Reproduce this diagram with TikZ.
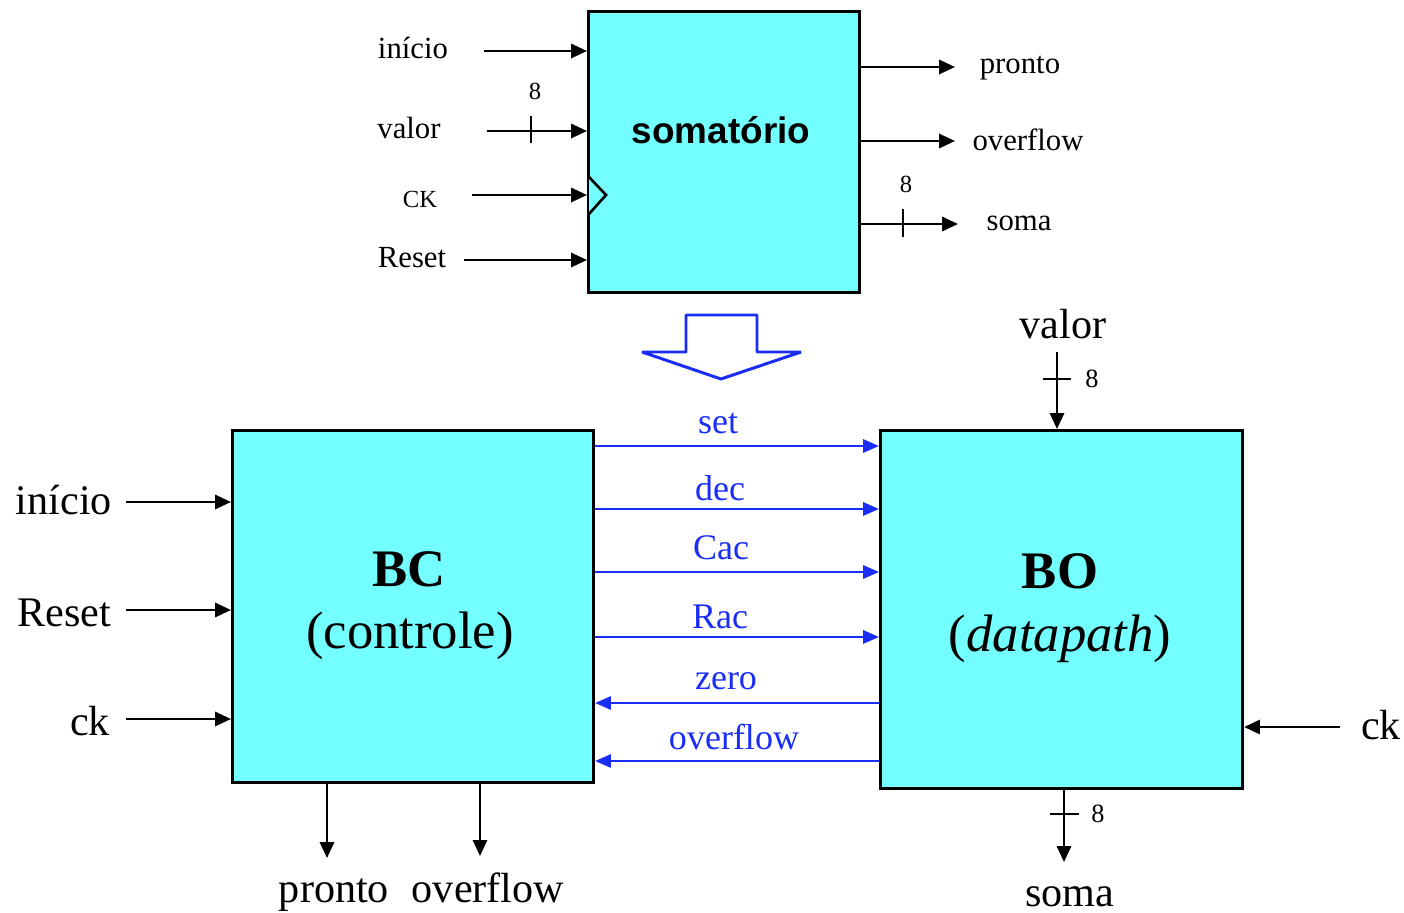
\documentclass[tikz,border=0pt]{standalone}
\usepackage{fontspec}
\setmainfont{Liberation Serif}
\newfontfamily\arialfont{Liberation Sans}
\usetikzlibrary{arrows.meta}
\definecolor{boxcyan}{RGB}{115,255,255}
\definecolor{sigblue}{RGB}{25,45,245}
\begin{document}
\begin{tikzpicture}[x=0.02cm,y=-0.02cm,
  box/.style={draw, line width=1.8pt, fill=boxcyan, inner sep=0pt, anchor=north west},
  sig/.style={line width=1.5pt, -{Triangle[length=9pt,width=8pt]}},
  bsig/.style={line width=1.3pt, color=sigblue, -{Triangle[length=9pt,width=7.5pt]}},
  tick/.style={line width=1.5pt},
  lblS/.style={font=\fontsize{17.5}{20}\selectfont, inner sep=0pt},
  lblXS/.style={font=\fontsize{14}{16}\selectfont, inner sep=0pt},
  lblL/.style={font=\fontsize{24}{28}\selectfont, inner sep=0pt},
  lblB/.style={font=\fontsize{20.5}{24}\selectfont, inner sep=0pt, text=sigblue},
  lblN/.style={font=\fontsize{15}{17}\selectfont, inner sep=0pt},
  big/.style={font=\fontsize{30}{34}\selectfont, inner sep=0pt}
]
\useasboundingbox (0,0) rectangle (1404,913);

% ---------- top block ----------
\node[box, minimum width=5.42cm, minimum height=5.62cm] (som) at (587,10) {};
\node[font=\arialfont\bfseries\fontsize{21}{24}\selectfont, inner sep=0pt] (somt) at (721,130) {somatório};
\draw[line width=1.5pt, fill=boxcyan] (589,177) -- (606,195) -- (589,214);

\node[lblS] (tini) at (413,48) {início};
\coordinate (tiniS) at (484,51);
\draw[sig] (tiniS) -- (som.west |- tiniS);

\node[lblS] (tval) at (409,128) {valor};
\coordinate (tvalS) at (487,131);
\draw[sig] (tvalS) -- (som.west |- tvalS);
\draw[tick] (531,116) -- (531,143);
\node[lblXS] (tval8) at (535,91) {8};

\node[lblXS] (tck) at (420,199) {CK};
\coordinate (tckS) at (472,195);
\draw[sig] (tckS) -- (som.west |- tckS);

\node[lblS] (trst) at (412,258) {Reset};
\coordinate (trstS) at (464,260);
\draw[sig] (trstS) -- (som.west |- trstS);

\node[lblS] (tpr) at (1020,68) {pronto};
\coordinate (tprE) at (955,67);
\draw[sig] (som.east |- tprE) -- (tprE);

\node[lblS] (tov) at (1028,140) {overflow};
\coordinate (tovE) at (955,141);
\draw[sig] (som.east |- tovE) -- (tovE);

\node[lblS] (tsoma) at (1019,223) {soma};
\coordinate (tsomaE) at (958,224);
\draw[sig] (som.east |- tsomaE) -- (tsomaE);
\draw[tick] (903,209) -- (903,237);
\node[lblXS] (tsoma8) at (906,184) {8};

% ---------- big arrow ----------
\draw[sigblue, line width=1.7pt, fill=white, line join=bevel]
  (686,315) -- (757,315) -- (757,352) -- (801,352) -- (721,379) -- (642,352) -- (686,352) -- cycle;

% ---------- BC ----------
\node[box, minimum width=7.22cm, minimum height=7.04cm] (bc) at (231,429) {};
\node[big, font=\bfseries\fontsize{30}{34}\selectfont] (bct) at (409,569) {BC};
\node[big] (bct2) at (410,636) {(controle)};

% ---------- BO ----------
\node[box, minimum width=7.24cm, minimum height=7.16cm] (bo) at (879,429) {};
\node[big, font=\bfseries\fontsize{30}{34}\selectfont] (bot) at (1060,571) {BO};
\node[big] (bot2) at (1060,639) {(\textit{datapath})};

% left inputs
\node[lblL] (lini) at (64,500) {início};
\coordinate (liniS) at (126,502);
\draw[sig] (liniS) -- (bc.west |- liniS);

\node[lblL] (lrst) at (64,613) {Reset};
\coordinate (lrstS) at (126,610);
\draw[sig] (lrstS) -- (bc.west |- lrstS);

\node[lblL] (lck) at (90,721) {ck};
\coordinate (lckS) at (126,719);
\draw[sig] (lckS) -- (bc.west |- lckS);

% bottom outputs of BC
\node[lblL, anchor=base] (bpr) at (334,902) {pronto};
\coordinate (bprE) at (327,858);
\draw[sig] (bc.south -| bprE) -- (bprE);

\node[lblL, anchor=base] (bov) at (488,902) {overflow};
\coordinate (bovE) at (480,856);
\draw[sig] (bc.south -| bovE) -- (bovE);

% blue signals
\coordinate (yset) at (0,446);
\coordinate (ydec) at (0,509);
\coordinate (ycac) at (0,572);
\coordinate (yrac) at (0,637);
\coordinate (yzero) at (0,703);
\coordinate (yovf) at (0,761);
\draw[bsig] (bc.east |- yset) -- (bo.west |- yset);
\draw[bsig] (bc.east |- ydec) -- (bo.west |- ydec);
\draw[bsig] (bc.east |- ycac) -- (bo.west |- ycac);
\draw[bsig] (bc.east |- yrac) -- (bo.west |- yrac);
\draw[bsig] (bo.west |- yzero) -- (bc.east |- yzero);
\draw[bsig] (bo.west |- yovf) -- (bc.east |- yovf);
\node[lblB] (lset) at (718,424) {set};
\node[lblB] (ldec) at (720,488) {dec};
\node[lblB] (lcac) at (721,548) {Cac};
\node[lblB] (lrac) at (720,617) {Rac};
\node[lblB] (lzero) at (726,681) {zero};
\node[lblB] (lovf) at (734,737) {overflow};

% right ck
\node[lblL] (rck) at (1381,725) {ck};
\coordinate (rckS) at (1340,727);
\draw[sig] (rckS) -- (bo.east |- rckS);

% valor top of BO
\node[lblL] (rval) at (1063,324) {valor};
\coordinate (rvalS) at (1057,352);
\draw[sig] (rvalS) -- (bo.north -| rvalS);
\draw[tick] (1043,379) -- (1071,379);
\node[lblN] (rval8) at (1092,379) {8};

% soma bottom of BO
\node[lblL] (rsoma) at (1070,897) {soma};
\coordinate (rsomaE) at (1064,862);
\draw[sig] (bo.south -| rsomaE) -- (rsomaE);
\draw[tick] (1050,814) -- (1079,814);
\node[lblN] (rsoma8) at (1098,814) {8};
\end{tikzpicture}
\end{document}
